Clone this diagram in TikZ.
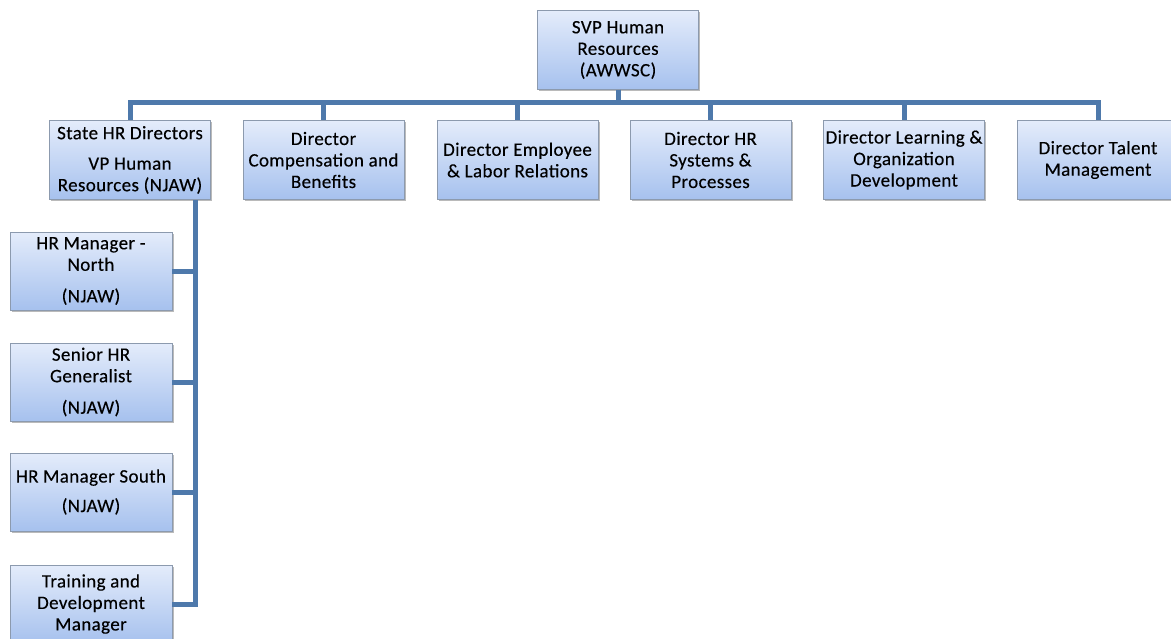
\documentclass[tikz,border=0pt]{standalone}
\usepackage{fontspec}
\setmainfont{Carlito}[LetterSpace=2,BoldFont=Carlito,BoldFeatures={FakeBold=0.25}]
\usetikzlibrary{shadows}
\definecolor{boxtop}{HTML}{E4ECFB}
\definecolor{boxbot}{HTML}{A6C1EE}
\definecolor{boxline}{HTML}{8C9AAE}
\definecolor{wire}{HTML}{4E79AB}
\tikzset{
  orgbox/.style={draw=boxline, line width=0.8pt, top color=boxtop, bottom color=boxbot,
    minimum width=161pt, minimum height=79pt, align=center, inner sep=1pt,
    font=\fontsize{19}{21.5}\selectfont\bfseries,
    drop shadow={shadow xshift=1.5pt, shadow yshift=-1.5pt, fill=black!45, opacity=0.6}},
  leftbox/.style={orgbox, minimum width=162pt, minimum height=78pt},
  wireline/.style={draw=wire, line width=5pt},
}
\begin{document}
\begin{tikzpicture}[x=1pt,y=-1pt]
\useasboundingbox (0,0) rectangle (1171,638);
% top of the hierarchy
\node[orgbox] (svp) at (618,50) {SVP Human\\Resources\\(AWWSC)};
% second level
\node[orgbox] (state) at (130,160) {State HR Directors\\[9pt]VP Human\\Resources (NJAW)};
\node[orgbox] (comp)  at (323.5,160) {Director\\Compensation and\\Benefits};
\node[orgbox] (elr)   at (517.5,160) {Director Employee\\\& Labor Relations};
\node[orgbox] (sys)   at (710.5,160) {Director HR\\Systems \&\\Processes};
\node[orgbox] (lod)   at (904,160) {Director Learning \&\\Organization\\Development};
\node[orgbox] (tal)   at (1098,160) {Director Talent\\Management};
% NJAW staff
\node[leftbox] (north) at (91,271) {HR Manager -\\North\\[10pt](NJAW)};
\node[leftbox] (sen)   at (91,382) {Senior HR\\Generalist\\[10pt](NJAW)};
\node[leftbox] (south) at (91,492) {HR Manager South\\[8pt](NJAW)};
\node[leftbox] (train) at (91,604) {Training and\\Development\\Manager};
% reporting lines from the SVP
\foreach \n in {state,comp,elr,sys,lod,tal}
  \draw[wireline] (svp.south) -- ++(0,13) -| (\n.north);
% spine under the state directors
\coordinate (spine) at (195,0);
\draw[wireline] (spine |- state.south) -- (spine |- train.east) -- (train.east);
\foreach \n in {north,sen,south}
  \draw[wireline] (\n.east) -- (\n.east -| spine);
\end{tikzpicture}
\end{document}
